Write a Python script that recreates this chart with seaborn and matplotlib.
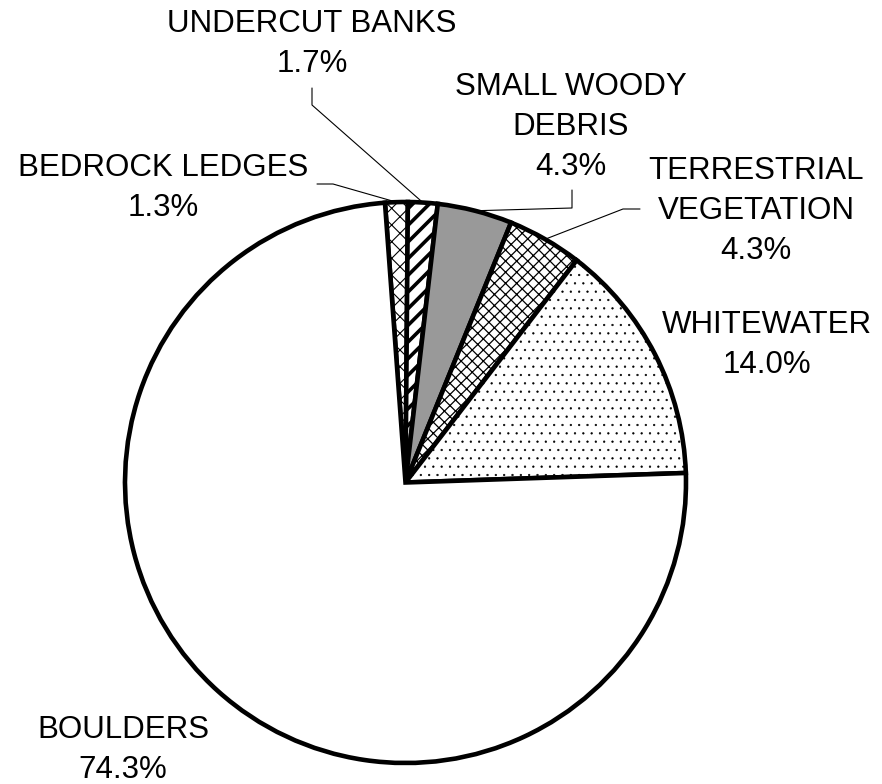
import matplotlib
matplotlib.use("Agg")
import numpy as np
import matplotlib.pyplot as plt
import seaborn as sns

# Habitat cover types and their share of total cover (%)
categories = ["BEDROCK LEDGES", "UNDERCUT BANKS", "SMALL WOODY DEBRIS",
              "TERRESTRIAL VEGETATION", "WHITEWATER", "BOULDERS"]
percentages = [1.3, 1.7, 4.3, 4.3, 14.0, 74.3]
label_lines = [["BEDROCK LEDGES"], ["UNDERCUT BANKS"], ["SMALL WOODY", "DEBRIS"],
               ["TERRESTRIAL", "VEGETATION"], ["WHITEWATER"], ["BOULDERS"]]

sns.set_theme(style="white")
plt.rcParams["font.family"] = ["Liberation Sans", "DejaVu Sans"]

W, H = 882, 784
CX, CY, R = 405.5, 482.5, 280.5  # pie centre and radius in pixels

fig = plt.figure(figsize=(W / 100, H / 100), dpi=100)
ax = fig.add_axes([0, 0, 1, 1])


def px(x, y):
    """Pixel position -> data coordinates of the unit pie."""
    return (x - CX) / R, (CY - y) / R


fills = ["white", "white", "#999999", "white", "white", "white"]
hatches = ["xx", "//", None, "xxx", "..", None]
hatch_widths = [0.8, 2.6, 1.0, 0.9, 0.4, 1.0]

wedges, _ = ax.pie(percentages, startangle=94.2, counterclock=False,
                   radius=1, center=(0, 0), colors=fills,
                   wedgeprops=dict(edgecolor="black", linewidth=3.3))
for w, h, hw in zip(wedges, hatches, hatch_widths):
    if h:
        w.set_hatch(h)
        if hasattr(w, "set_hatch_linewidth"):
            w.set_hatch_linewidth(hw)

ax.set_xlim(-CX / R, (W - CX) / R)
ax.set_ylim(-(H - CY) / R, CY / R)
ax.set_aspect("auto")
ax.axis("off")

# label text: (centre x, baseline of first line) in pixels
label_pos = [(163, 176), (312, 32), (571, 95), (756, 179), (767, 333), (123, 738)]
line_gap = 40
for lines, val, (lx, ly) in zip(label_lines, percentages, label_pos):
    for i, t in enumerate(lines + [f"{val:.1f}%"]):
        ax.text(*px(lx, ly + i * line_gap), t, ha="center", va="baseline",
                fontsize=22.5, color="black")

# leader lines: elbow points in pixels, ending on the wedge rim
elbows = {0: [(317, 184), (333, 184)],
          1: [(312, 88), (312, 105)],
          2: [(572, 190), (572, 208)],
          3: [(640, 209), (623, 209)]}
for idx, pts in elbows.items():
    wdg = wedges[idx]
    mid = np.deg2rad((wdg.theta1 + wdg.theta2) / 2)
    xs = [px(*p)[0] for p in pts] + [np.cos(mid)]
    ys = [px(*p)[1] for p in pts] + [np.sin(mid)]
    ax.plot(xs, ys, color="black", linewidth=0.8, zorder=0.5)

fig.savefig("out.png", dpi=100, facecolor="white")
